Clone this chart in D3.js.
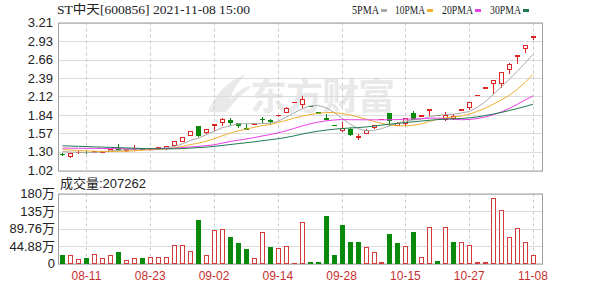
<!DOCTYPE html>
<html><head><meta charset="utf-8">
<script src="https://cdn.jsdelivr.net/npm/d3@7"></script>
<style>body{margin:0;background:#fff}svg{display:block}</style>
</head><body><svg id="c" width="600" height="286"></svg>
<script>
const dates = ["08-06","08-09","08-10","08-11","08-12","08-13","08-16","08-17","08-18","08-19","08-20","08-23","08-24","08-25","08-26","08-27","08-30","08-31","09-01","09-02","09-03","09-06","09-07","09-08","09-09","09-10","09-13","09-14","09-15","09-16","09-17","09-22","09-23","09-24","09-27","09-28","09-29","09-30","10-08","10-11","10-12","10-13","10-14","10-15","10-18","10-19","10-20","10-21","10-22","10-25","10-26","10-27","10-28","10-29","11-01","11-02","11-03","11-04","11-05","11-08"];
const openP = [1.27,1.235,1.29,1.30,1.295,1.30,1.31,1.345,1.32,1.335,1.345,1.34,1.35,1.35,1.40,1.46,1.55,1.68,1.59,1.70,1.745,1.76,1.72,1.645,1.715,1.785,1.76,1.835,1.89,2.035,2.00,1.98,1.88,1.80,1.70,1.615,1.64,1.52,1.58,1.66,1.78,1.87,1.70,1.72,1.87,1.83,1.91,1.84,1.78,1.79,1.92,1.955,2.135,2.245,2.31,2.32,2.52,2.72,2.83,3.00];
const highP = [1.28,1.28,1.305,1.305,1.315,1.315,1.345,1.41,1.345,1.40,1.35,1.35,1.37,1.385,1.45,1.52,1.60,1.68,1.64,1.71,1.79,1.80,1.73,1.71,1.72,1.81,1.785,1.843,1.96,2.04,2.115,1.98,1.88,1.855,1.70,1.74,1.67,1.56,1.63,1.70,1.785,1.87,1.74,1.80,1.90,1.845,1.93,1.84,1.89,1.86,1.93,2.04,2.14,2.25,2.36,2.48,2.61,2.73,2.87,3.01];
const lowP = [1.255,1.225,1.285,1.285,1.29,1.295,1.305,1.33,1.315,1.32,1.335,1.335,1.345,1.345,1.39,1.455,1.54,1.53,1.58,1.62,1.70,1.71,1.66,1.635,1.71,1.73,1.71,1.83,1.88,2.035,1.95,1.976,1.877,1.785,1.696,1.61,1.55,1.49,1.57,1.65,1.78,1.70,1.69,1.70,1.78,1.83,1.845,1.835,1.77,1.78,1.91,1.93,2.135,2.245,2.17,2.26,2.47,2.61,2.78,2.97];
const closeP = [1.265,1.275,1.30,1.29,1.31,1.31,1.34,1.335,1.34,1.345,1.34,1.345,1.365,1.38,1.45,1.52,1.60,1.54,1.63,1.71,1.78,1.745,1.69,1.64,1.72,1.78,1.755,1.84,1.94,2.04,2.08,1.976,1.877,1.785,1.696,1.65,1.555,1.53,1.62,1.70,1.785,1.765,1.72,1.79,1.785,1.84,1.93,1.835,1.84,1.82,1.93,2.04,2.14,2.25,2.36,2.48,2.60,2.73,2.87,3.01];
const prevClose0 = 1.27;
// volume in 万手
const volume = [20.6,20.6,12,13,25.7,15.4,23,29,10,15.4,15.4,18,18,18,47,47,31.7,111,23,85,90,68.6,53,37,15.4,81.4,42,39.4,44.6,2,108,5,3.5,122.6,23,98.6,55.7,55.7,42,29,5,77,54,44.6,82,18,92.6,7.7,95,55.7,55.7,47,4.3,4.3,169.7,138,68.6,91.7,55.7,20.73];
const ma5 = [1.300,1.292,1.290,1.286,1.288,1.297,1.310,1.317,1.327,1.334,1.340,1.341,1.347,1.355,1.376,1.412,1.463,1.498,1.548,1.600,1.652,1.681,1.711,1.713,1.715,1.715,1.717,1.747,1.807,1.871,1.931,1.975,1.983,1.952,1.883,1.797,1.713,1.643,1.610,1.611,1.638,1.680,1.718,1.752,1.769,1.780,1.813,1.836,1.846,1.853,1.871,1.893,1.954,2.036,2.144,2.254,2.366,2.484,2.608,2.738];
const ma10 = [1.330,1.322,1.316,1.311,1.306,1.303,1.302,1.303,1.306,1.311,1.319,1.326,1.332,1.341,1.355,1.376,1.402,1.423,1.452,1.488,1.532,1.572,1.605,1.631,1.658,1.684,1.699,1.729,1.760,1.793,1.823,1.846,1.865,1.879,1.877,1.864,1.844,1.813,1.781,1.747,1.717,1.696,1.681,1.681,1.690,1.709,1.747,1.777,1.799,1.811,1.826,1.853,1.895,1.941,1.999,2.063,2.130,2.219,2.322,2.441];
const ma20 = [1.352,1.350,1.349,1.348,1.347,1.346,1.345,1.344,1.343,1.342,1.341,1.341,1.342,1.345,1.350,1.358,1.368,1.376,1.388,1.400,1.425,1.449,1.468,1.486,1.506,1.530,1.551,1.576,1.606,1.641,1.678,1.709,1.735,1.755,1.767,1.774,1.771,1.771,1.770,1.770,1.770,1.771,1.773,1.780,1.783,1.786,1.795,1.795,1.790,1.779,1.771,1.775,1.788,1.811,1.844,1.886,1.938,1.998,2.061,2.126];
const ma30 = [1.385,1.382,1.378,1.374,1.370,1.366,1.362,1.358,1.354,1.350,1.346,1.343,1.341,1.340,1.341,1.345,1.352,1.358,1.366,1.377,1.390,1.404,1.417,1.430,1.444,1.460,1.474,1.490,1.508,1.531,1.558,1.581,1.600,1.617,1.630,1.641,1.648,1.655,1.664,1.676,1.691,1.705,1.717,1.730,1.741,1.752,1.763,1.773,1.780,1.784,1.789,1.799,1.813,1.834,1.855,1.878,1.907,1.936,1.967,2.000];
const priceTicks = [1.02,1.30,1.57,1.84,2.12,2.39,2.66,2.93,3.21];
const volTicks = [0,44.88,89.76,135,180];
const volTickLabels = ["0","44.88万","89.76万","135万","180万"];
const dateTicks = ["08-11","08-23","09-02","09-14","09-28","10-15","10-27","11-08"];
const maNames = ["5PMA","10PMA","20PMA","30PMA"];
const maColors = ["#a9a9a9","#f0b030","#e83ee8","#1e7a52"];
const titleText = "ST中天[600856] 2021-11-08 15:00";
const volLabel = "成交量:207262";

const RED = "#e02424", GREEN = "#0a8a0a";
const svg = d3.select("#c");
const L = 58, R = 543, PT = 22.5, PB = 170.5, VT = 193.5, VB = 263.5;

const x = d3.scaleBand().domain(dates).range([58.5, 537]);
const bw = x.bandwidth();
const cx = d => Math.round(x(d) + bw / 2);
const yP = d3.scaleLinear().domain([1.02, 3.21]).range([PB, PT]);
const yV = d3.scaleLinear().domain([0, 180]).range([VB, VT]);

// watermark
const wm = svg.append("g").attr("fill", "#e9e9e9");
wm.append("path").attr("d", "M208,112 C214,96 226,82 246,74 C236,84 232,92 230,100 C238,90 246,86 252,86 C240,96 232,104 226,112 Z");
wm.append("text").attr("x", 250).attr("y", 110).attr("font-family", "Noto Sans CJK SC").attr("font-weight", "bold")
  .attr("font-size", 37).attr("textLength", 145).text("东方财富");

// horizontal grids
svg.append("g").selectAll("line").data(priceTicks).join("line")
  .attr("x1", L).attr("x2", R).attr("y1", d => Math.round(yP(d)) + 0.5).attr("y2", d => Math.round(yP(d)) + 0.5)
  .attr("stroke", "#dcdcdc");
svg.append("g").selectAll("line").data(volTicks).join("line")
  .attr("x1", L).attr("x2", R).attr("y1", d => Math.round(yV(d)) + 0.5).attr("y2", d => Math.round(yV(d)) + 0.5)
  .attr("stroke", "#dcdcdc");
// vertical dashed grids
[[PT, PB], [VT, VB]].forEach(([a, b]) => {
  svg.append("g").selectAll("line").data(dateTicks).join("line")
    .attr("x1", d => cx(d) + 0.5).attr("x2", d => cx(d) + 0.5).attr("y1", a).attr("y2", b)
    .attr("stroke", "#c8c8c8").attr("stroke-dasharray", "3,3");
});
// frames
svg.append("rect").attr("x", L + 0.5).attr("y", PT + 0.5).attr("width", R - L - 1).attr("height", PB - PT)
  .attr("fill", "none").attr("stroke", "#a0a0a0");
svg.append("rect").attr("x", L + 0.5).attr("y", VT + 0.5).attr("width", R - L - 1).attr("height", VB - VT)
  .attr("fill", "none").attr("stroke", "#a0a0a0");

// candles
const idx = d3.range(dates.length);
const isUp = i => closeP[i] > openP[i] || (closeP[i] === openP[i] && closeP[i] >= (i ? closeP[i - 1] : prevClose0));
const cg = svg.append("g");
cg.selectAll("line").data(idx).join("line")
  .attr("x1", i => cx(dates[i]) + 0.5).attr("x2", i => cx(dates[i]) + 0.5)
  .attr("y1", i => Math.round(yP(highP[i]))).attr("y2", i => Math.round(yP(lowP[i])) + 1)
  .attr("stroke", i => isUp(i) ? RED : GREEN);
cg.selectAll("rect").data(idx).join("rect")
  .attr("x", i => cx(dates[i]) - 1.5).attr("width", 4)
  .attr("y", i => Math.round(yP(Math.max(openP[i], closeP[i]))) + 0.5)
  .attr("height", i => Math.max(0.001, Math.round(yP(Math.min(openP[i], closeP[i]))) - Math.round(yP(Math.max(openP[i], closeP[i])))))
  .attr("fill", i => isUp(i) ? "#fff" : GREEN)
  .attr("stroke", i => isUp(i) ? RED : GREEN);

// MA lines
const mas = [ma5, ma10, ma20, ma30];
const line = d3.line().x((v, i) => x(dates[i]) + bw / 2).y(v => yP(v));
mas.forEach((m, k) => {
  svg.append("path").attr("d", line(m)).attr("fill", "none").attr("stroke", maColors[k]).attr("stroke-width", 1);
});

// volume bars
const volUp = i => closeP[i] >= (i ? closeP[i - 1] : prevClose0);
svg.append("g").selectAll("rect").data(idx).join("rect")
  .attr("x", i => cx(dates[i]) - 1.5).attr("width", 4)
  .attr("y", i => Math.round(yV(volume[i])) + 0.5)
  .attr("height", i => Math.max(0.001, Math.round(VB) - 0.5 - Math.round(yV(volume[i])) - 0.5))
  .attr("fill", i => volUp(i) ? "#fff" : GREEN)
  .attr("stroke", i => volUp(i) ? "#d63a3a" : GREEN);

// axes
const fontAxis = "'Liberation Sans', Arial, sans-serif";
const ay = svg.append("g").attr("transform", `translate(${L},0)`)
  .call(d3.axisLeft(yP).tickValues(priceTicks).tickFormat(d3.format(".2f")).tickSize(0).tickPadding(5));
ay.select(".domain").remove();
ay.selectAll("text").attr("font-family", fontAxis).attr("font-size", 13).attr("fill", "#222");
const av = svg.append("g").attr("transform", `translate(${L},0)`)
  .call(d3.axisLeft(yV).tickValues(volTicks).tickFormat((d, i) => volTickLabels[i]).tickSize(0).tickPadding(3));
av.select(".domain").remove();
av.selectAll("text").attr("font-family", fontAxis + ", 'Noto Sans CJK SC'").attr("font-size", 13).attr("fill", "#222");
const ax = svg.append("g").attr("transform", `translate(0,${VB})`)
  .call(d3.axisBottom(x).tickValues(dateTicks).tickSize(0).tickPadding(8));
ax.select(".domain").remove();
ax.selectAll("text").attr("font-family", fontAxis).attr("font-size", 12).attr("fill", "#c83030");

// title & legend
const fontT = "'Liberation Serif', 'Noto Sans CJK SC', serif";
svg.append("text").attr("x", 57).attr("y", 14).attr("font-family", fontT).attr("font-size", 12.5)
  .attr("fill", "#222").attr("textLength", 193).attr("lengthAdjust", "spacingAndGlyphs").text(titleText);
const legX = [352, 395, 442, 490];
const legW = [27, 30, 31, 31];
maNames.forEach((n, k) => {
  svg.append("text").attr("x", legX[k]).attr("y", 14).attr("font-family", fontT).attr("font-size", 12)
    .attr("fill", "#222").attr("textLength", legW[k]).attr("lengthAdjust", "spacingAndGlyphs").text(n);
  svg.append("rect").attr("x", legX[k] + legW[k] + 2).attr("y", 9).attr("width", 6).attr("height", 3).attr("fill", maColors[k]);
});
svg.append("text").attr("x", 60).attr("y", 188).attr("font-family", "'Liberation Sans', 'Noto Sans CJK SC', sans-serif")
  .attr("font-size", 13).attr("fill", "#222").text(volLabel);
</script></body></html>
